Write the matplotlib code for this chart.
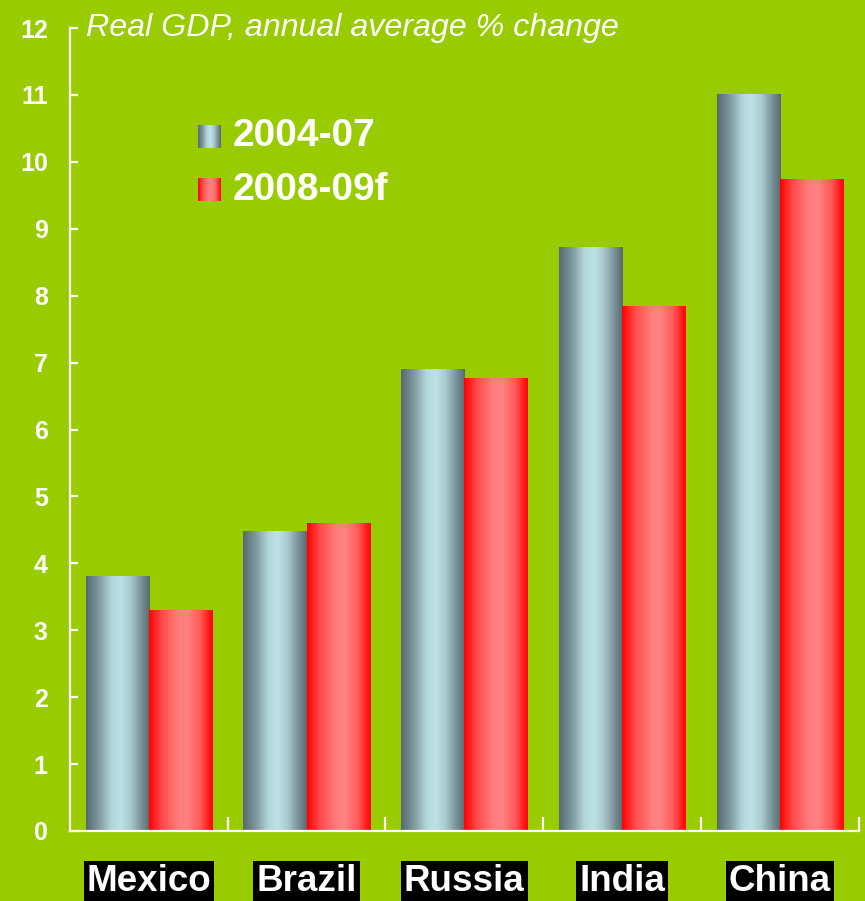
import numpy as np
import matplotlib.pyplot as plt
from matplotlib.colors import LinearSegmentedColormap

# data
countries = ['Mexico', 'Brazil', 'Russia', 'India', 'China']
gdp_2004_07 = [3.8, 4.48, 6.9, 8.72, 11.0]
gdp_2008_09f = [3.3, 4.6, 6.76, 7.84, 9.74]
series_names = ['2004-07', '2008-09f']
yticks = list(range(0, 13))

BG = '#99cc00'
gray_cmap = LinearSegmentedColormap.from_list('gray_grad', [
    (0.0, '#566a70'), (0.2, '#7f989d'), (0.4, '#b3d7dc'), (0.55, '#bde1e6'),
    (0.7, '#a9c9ce'), (0.85, '#7e979c'), (1.0, '#566a70')])
red_cmap = LinearSegmentedColormap.from_list('red_grad', [
    (0.0, '#ff0000'), (0.2, '#ff4a4a'), (0.45, '#ff7c7c'), (0.6, '#ff8282'),
    (0.8, '#ff5a5a'), (1.0, '#ff0000')])
grad = np.linspace(0, 1, 256).reshape(1, -1)

plt.rcParams['font.family'] = ['Liberation Sans', 'DejaVu Sans']

fig = plt.figure(figsize=(8.65, 9.01), dpi=100)
fig.patch.set_facecolor(BG)
ax = fig.add_axes([0.0809, 0.0777, 0.9116, 0.8912])
ax.set_facecolor(BG)

x = np.arange(len(countries))
w = 0.4
bars_a = ax.bar(x - w / 2, gdp_2004_07, w, color='none', edgecolor='none')
bars_b = ax.bar(x + w / 2, gdp_2008_09f, w, color='none', edgecolor='none')

# paint each bar with a horizontal cylinder-like gradient
for bars, cmap in [(bars_a, gray_cmap), (bars_b, red_cmap)]:
    for b in bars:
        x0, y0 = b.get_x(), b.get_y()
        ax.imshow(grad, cmap=cmap, aspect='auto', interpolation='bicubic',
                  extent=[x0, x0 + b.get_width(), y0, y0 + b.get_height()],
                  zorder=2)

ax.set_xlim(-0.5, len(countries) - 0.5)
ax.set_ylim(0, 12)

for s in ['top', 'right']:
    ax.spines[s].set_visible(False)
for s in ['left', 'bottom']:
    ax.spines[s].set_color('white')
    ax.spines[s].set_linewidth(1.6)
    ax.spines[s].set_zorder(5)

ax.set_yticks(yticks)
ax.set_yticklabels([str(t) for t in yticks], fontsize=18, fontweight='bold',
                   color='white')
ax.tick_params(axis='y', direction='in', length=6, width=1.6, color='white',
               pad=16)

ax.set_xticks(x)
ax.set_xticklabels(countries, fontsize=26.5, fontweight='bold', color='white')
ax.tick_params(axis='x', which='major', length=0, pad=24)
ax.set_xticks(np.arange(0.5, len(countries), 1.0), minor=True)
ax.tick_params(axis='x', which='minor', direction='in', length=10, width=1.6,
               color='white')
for lbl in ax.get_xticklabels():
    lbl.set_bbox(dict(facecolor='black', edgecolor='none', pad=2))

ax.text(0.02, 1.0, 'Real GDP, annual average % change', transform=ax.transAxes,
        fontsize=23.2, style='italic', color='white', va='center', ha='left')

# legend with gradient swatches
for i, (name, cmap) in enumerate(zip(series_names, [gray_cmap, red_cmap])):
    top = 901 - 125 - i * 53
    sw = fig.add_axes([198 / 865, (top - 23) / 901, 23 / 865, 23 / 901])
    sw.imshow(grad, cmap=cmap, aspect='auto', interpolation='bicubic')
    sw.axis('off')
    fig.text(233 / 865, (top - 11.5) / 901, name, fontsize=28,
             fontweight='bold', color='white', va='center', ha='left')

fig.savefig('out.png', dpi=100, facecolor=BG)
